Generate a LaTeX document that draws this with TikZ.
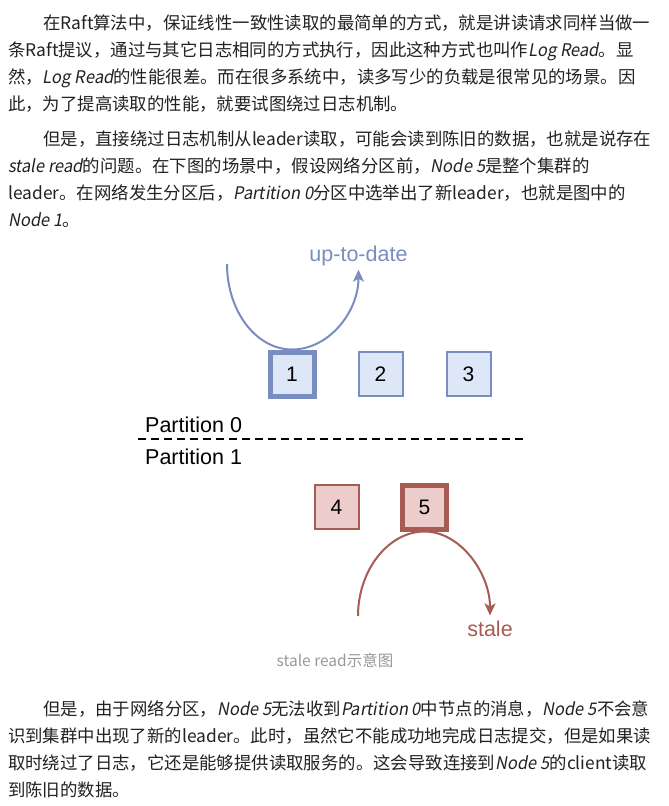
\documentclass[tikz,border=0pt]{standalone}
\usepackage{fontspec}
\setmainfont{Noto Sans CJK SC}
\newfontfamily\slantfont{Noto Sans CJK SC}[FakeSlant=0.18,FakeStretch=0.95]
\newfontfamily\diafont{Liberation Sans}
\newcommand\slnt[1]{{\slantfont #1}}
\usepackage{tikz}
\usetikzlibrary{arrows.meta}
\definecolor{bodytext}{HTML}{222222}
\definecolor{capgrey}{HTML}{999999}
\definecolor{upline}{HTML}{7A8DC0}
\definecolor{upfill}{HTML}{DDE7F8}
\definecolor{staleline}{HTML}{A65C54}
\definecolor{stalefill}{HTML}{EDCDCB}
\tikzset{
  para/.style={anchor=base west, inner sep=0pt, text=bodytext, font=\fontsize{17.4}{20}\selectfont},
  srv/.style={draw, minimum size=44pt, inner sep=0pt, text=black, font=\diafont\fontsize{21}{24}\selectfont},
  lbl/.style={inner sep=1pt, font=\diafont\fontsize{21.5}{24}\selectfont},
  readarc/.style={line width=2pt, -{Stealth[length=12pt,width=11pt,inset=3pt]}}
}

\begin{document}
\begin{tikzpicture}[x=1pt,y=1pt]
\useasboundingbox (0,0) rectangle (669,-806);
\fill[white] (0,0) rectangle (669,-806);
% text above the figure
\foreach \y/\x/\txt in {
  29/43/{在Raft算法中，保证线性一致性读取的最简单的方式，就是讲读请求同样当做一},
  56/8/{条Raft提议，通过与其它日志相同的方式执行，因此这种方式也叫作\slnt{Log Read}。显},
  83/8/{然，\slnt{Log Read}的性能很差。而在很多系统中，读多写少的负载是很常见的场景。因},
  110/8/{此，为了提高读取的性能，就要试图绕过日志机制。},
  145/43/{但是，直接绕过日志机制从leader读取，可能会读到陈旧的数据，也就是说存在},
  172/8/{\slnt{stale read}的问题。在下图的场景中，假设网络分区前，\slnt{Node 5}是整个集群的},
  199/8/{leader。在网络发生分区后，\slnt{Partition 0}分区中选举出了新leader，也就是图中的},
  226/8/{\slnt{Node 1}。}}{
  \node[para] (ln\y) at (\x,-\y) {\txt};
}
% partition 0
\foreach \i/\x/\w in {1/292/5pt,2/380.5/2pt,3/468.5/2pt}{
  \node[srv, draw=upline, fill=upfill, line width=\w] (n\i) at (\x,-374) {\i};
}
\node[lbl, text=upline] (uptext) at (358.5,-255.5) {up-to-date};
\coordinate (upstart) at (227,-264);
\draw[readarc, upline, shorten >=3pt] (upstart) .. controls +(0,-47) and +(-36,0) .. (n1.north)
  .. controls +(37,0) and +(0,-45) .. (uptext.south);
% the cut
\node[lbl, anchor=west] (part0) at (144,-425) {Partition 0};
\node[lbl, anchor=west] (part1) at (144,-457) {Partition 1};
\coordinate (cutl) at (138,-439);
\coordinate (cutr) at (527,-439);
\draw[line width=2pt, dash pattern=on 8pt off 5pt] (cutl) -- (cutr);
% partition 1
\foreach \i/\x/\w in {4/336.5/2pt,5/424.5/5pt}{
  \node[srv, draw=staleline, fill=stalefill, line width=\w] (n\i) at (\x,-507) {\i};
}
\node[lbl, text=staleline] (stale) at (490,-628.5) {stale};
\coordinate (stalestart) at (358,-616);
\draw[readarc, staleline, shorten >=4pt] (stalestart) .. controls +(0,46) and +(-36,0) .. (n5.south)
  .. controls +(36,0) and +(0,46) .. (stale.north);
\node[text=capgrey, font=\fontsize{15.5}{18}\selectfont] (cap) at (335,-661) {stale read示意图};
% text below the figure
\foreach \y/\x/\txt in {
  715/43/{但是，由于网络分区，\slnt{Node 5}无法收到\slnt{Partition 0}中节点的消息，\slnt{Node 5}不会意},
  742/8/{识到集群中出现了新的leader。此时，虽然它不能成功地完成日志提交，但是如果读},
  769/8/{取时绕过了日志，它还是能够提供读取服务的。这会导致连接到\slnt{Node 5}的client读取},
  796/8/{到陈旧的数据。}}{
  \node[para] (ln\y) at (\x,-\y) {\txt};
}
\end{tikzpicture}
\end{document}
